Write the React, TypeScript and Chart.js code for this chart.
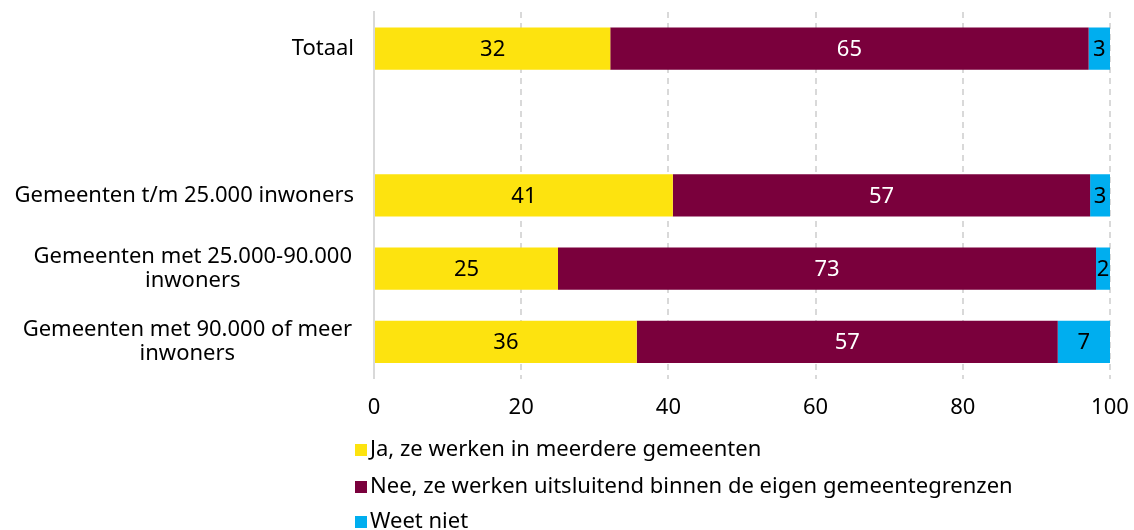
import React, { useEffect, useRef } from "react";
import { Chart, registerables } from "chart.js";

Chart.register(...registerables);

const categories: string[][] = [
  ["Totaal"],
  [""],
  ["Gemeenten t/m 25.000 inwoners"],
  ["Gemeenten met 25.000-90.000", "inwoners"],
  ["Gemeenten met 90.000 of meer", "inwoners"],
];
const seriesNames = [
  "Ja, ze werken in meerdere gemeenten",
  "Nee, ze werken uitsluitend binnen de eigen gemeentegrenzen",
  "Weet niet",
];
const ja: (number | null)[] = [32.1, null, 40.6, 25.0, 35.7];
const nee: (number | null)[] = [65.0, null, 56.7, 73.1, 57.2];
const weetNiet: (number | null)[] = [2.9, null, 2.7, 1.9, 7.1];
const colors = ["#FDE30F", "#7A003C", "#00AEEF"];
const labelColors = ["#000000", "#FFFFFF", "#000000"];
const xTicks = [0, 20, 40, 60, 80, 100];

const FONT = "'Noto Sans', sans-serif";
const FS = 22;

const customPlugin = {
  id: "custom",
  afterDatasetsDraw(chart: any) {
    const ctx = chart.ctx;
    ctx.save();
    ctx.font = `${FS}px ${FONT}`;
    ctx.textAlign = "center";
    ctx.textBaseline = "middle";
    chart.data.datasets.forEach((ds: any, di: number) => {
      const meta = chart.getDatasetMeta(di);
      meta.data.forEach((bar: any, i: number) => {
        const v = ds.data[i];
        if (v == null) return;
        const x = (bar.x + bar.base) / 2;
        ctx.fillStyle = labelColors[di];
        ctx.fillText(String(Math.round(v)), x, bar.y + 1);
      });
    });
    // y category labels
    const yScale = chart.scales.y;
    const left = chart.chartArea.left;
    ctx.fillStyle = "#000";
    categories.forEach((lines, i) => {
      const y = yScale.getPixelForValue(i);
      const lh = 24;
      if (lines.length === 1) {
        ctx.textAlign = "right";
        ctx.fillText(lines[0], left - 20, y);
      } else {
        const w = ctx.measureText(lines[0]).width;
        const right = left - 22;
        const cx = right - w / 2;
        ctx.textAlign = "center";
        lines.forEach((ln, k) => {
          ctx.fillText(ln, cx, y + (k - (lines.length - 1) / 2) * lh);
        });
      }
    });
    // legend
    ctx.textAlign = "left";
    const lx = 355;
    const ys = [450, 487, 522];
    chart.data.datasets.forEach((ds: any, di: number) => {
      ctx.fillStyle = colors[di];
      ctx.fillRect(lx, ys[di] - 6, 12, 12);
      ctx.fillStyle = "#000";
      ctx.fillText(ds.label, lx + 15, ys[di]);
    });
    ctx.restore();
  },
};

export default function App() {
  const ref = useRef<HTMLCanvasElement | null>(null);
  useEffect(() => {
    if (!ref.current) return;
    const chart = new Chart(ref.current, {
      type: "bar",
      data: {
        labels: categories.map((c) => c.join(" ")),
        datasets: [ja, nee, weetNiet].map((d, i) => ({
          label: seriesNames[i],
          data: d,
          backgroundColor: colors[i],
          borderWidth: 0,
          categoryPercentage: 1,
          barPercentage: 0.575,
        })),
      },
      options: {
        indexAxis: "y",
        animation: false,
        responsive: false,
        maintainAspectRatio: false,
        layout: { padding: { left: 366, right: 24, top: 12, bottom: 93 } },
        plugins: { legend: { display: false }, tooltip: { enabled: false } },
        scales: {
          x: {
            stacked: true,
            min: 0,
            max: 100,
            afterBuildTicks: (s: any) => {
              s.ticks = xTicks.map((v) => ({ value: v }));
            },
            afterFit: (s: any) => {
              s.paddingRight = 0;
              s.paddingLeft = 0;
            },
            grid: {
              color: (c: any) => (c.tick && c.tick.value === 0 ? "rgba(0,0,0,0)" : "#D9D9D9"),
              lineWidth: 2,
              drawTicks: false,
            },
            border: { display: false, dash: [6, 5] },
            ticks: { color: "#000", font: { family: FONT, size: FS }, padding: 16 },
          },
          y: {
            stacked: true,
            grid: { display: false },
            border: { display: true, color: "#D9D9D9", width: 2 },
            ticks: { display: false },
          },
        },
      } as any,
      plugins: [customPlugin],
    });
    return () => chart.destroy();
  }, []);
  return (
    <div style={{ position: "absolute", left: 0, top: 0, width: 1134, height: 530 }}>
      <canvas ref={ref} width={1134} height={530} style={{ width: 1134, height: 530 }} />
    </div>
  );
}
